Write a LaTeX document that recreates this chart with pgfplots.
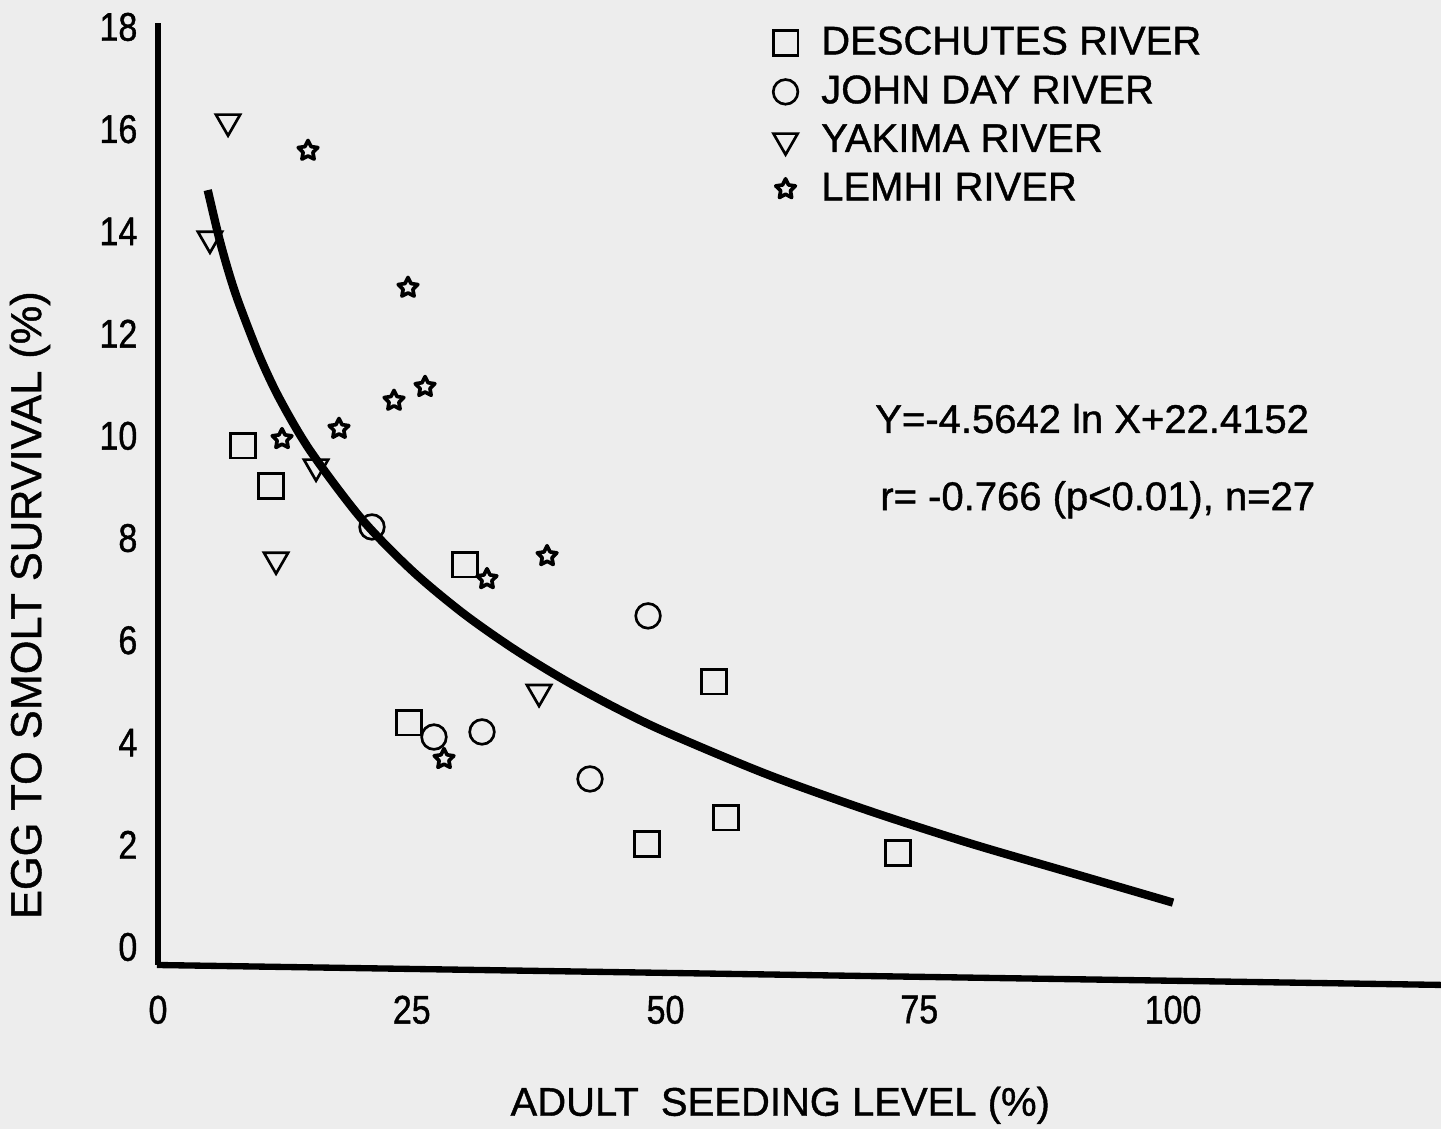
\documentclass[border=0pt]{standalone}
\usepackage{pgfplots}
\pgfplotsset{compat=1.18}
\usepackage{fontspec}
\setmainfont{Liberation Sans}[FakeBold=1]
\newfontfamily\tickfont{Liberation Sans}[FakeStretch=0.85]
\newfontfamily\heavyfont{Liberation Sans}[FakeBold=1]
\newfontfamily\heavytick{Liberation Sans}[FakeStretch=0.85,FakeBold=1]
\definecolor{bg}{rgb}{0.93,0.93,0.93}

\pgfdeclareplotmark{ostar}{%
  \pgfpathmoveto{\pgfpointpolar{90}{\pgfplotmarksize}}%
  \pgfpathlineto{\pgfpointpolar{126}{0.5\pgfplotmarksize}}%
  \pgfpathlineto{\pgfpointpolar{162}{\pgfplotmarksize}}%
  \pgfpathlineto{\pgfpointpolar{198}{0.5\pgfplotmarksize}}%
  \pgfpathlineto{\pgfpointpolar{234}{\pgfplotmarksize}}%
  \pgfpathlineto{\pgfpointpolar{270}{0.5\pgfplotmarksize}}%
  \pgfpathlineto{\pgfpointpolar{306}{\pgfplotmarksize}}%
  \pgfpathlineto{\pgfpointpolar{342}{0.5\pgfplotmarksize}}%
  \pgfpathlineto{\pgfpointpolar{18}{\pgfplotmarksize}}%
  \pgfpathlineto{\pgfpointpolar{54}{0.5\pgfplotmarksize}}%
  \pgfpathclose
  \pgfusepathqstroke}

\begin{document}
\begin{tikzpicture}
\useasboundingbox (0,0) rectangle (432.3pt,338.7pt);
\fill[bg] (0,0) rectangle (432.3pt,338.7pt);
\begin{axis}[
  at={(47.4pt,49.2pt)}, anchor=south west,
  scale only axis, width=384.9pt, height=282.6pt,
  xmin=0, xmax=126.4, ymin=0, ymax=18.43,
  axis lines=left,
  axis line style={-, line width=2pt},
  x axis line style={draw=none},
  clip=false,
  major tick length=0pt,
  xtick={0,25,50,75,100},
  ytick={0,2,...,18},
  /pgf/number format/assume math mode=true,
  yticklabel style={font=\heavytick\fontsize{12}{14}\selectfont, inner sep=0pt, anchor=east, xshift=-6pt, yshift=5.4pt},
  xticklabel style={font=\heavytick\fontsize{12}{14}\selectfont, inner sep=0pt, anchor=north, yshift=-9pt},
  xlabel={ADULT\ \ SEEDING LEVEL (\%)},
  ylabel={EGG TO SMOLT SURVIVAL (\%)},
  xlabel style={font=\heavyfont\fontsize{12}{14}\selectfont, at={(axis description cs:0.485,-0.149)}, anchor=center},
  ylabel style={font=\heavyfont\fontsize{13}{15}\selectfont, at={(axis description cs:-0.0998,0.382)}, anchor=center, rotate=0},
  legend style={at={(axis description cs:0.479,0.997)}, anchor=north west, draw=none, fill=none,
    font=\heavyfont\fontsize{12}{14}\selectfont, inner sep=0pt, row sep=4.8pt, nodes={inner sep=0pt},
    /tikz/every odd column/.append style={column sep=7pt}},
  legend cell align=left,
  legend image code/.code={\draw[#1] plot coordinates {(0pt,0pt)};},
]
% Deschutes
\addplot[only marks, mark=square, mark size=3.7pt, mark options={line width=0.8pt, black}] coordinates {
 (8.37,10.16) (11.13,9.37) (24.73,4.74) (30.25,7.83) (48.18,2.37) (54.78,5.54) (55.96,2.88) (72.91,2.19)};
\addlegendentry{DESCHUTES RIVER}
% John Day
\addplot[only marks, mark=o, mark size=3.7pt, mark options={line width=0.8pt, black}] coordinates {
 (21.08,8.57) (27.19,4.46) (31.92,4.56) (42.56,3.64) (48.28,6.83)};
\addlegendentry{JOHN DAY RIVER}
% Yakima
\addplot[only marks, mark=triangle, mark size=4.2pt, mark options={line width=0.8pt, black, rotate=180}] coordinates {
 (6.90,16.50) (5.12,14.21) (15.57,9.75) (11.63,7.93) (37.54,5.34)};
\addlegendentry{YAKIMA RIVER}
% Lemhi
\addplot[only marks, mark=ostar, mark size=3.1pt, mark options={line width=1.1pt, black, line join=round}] coordinates {
 (14.78,15.93) (24.63,13.25) (12.22,10.29) (17.83,10.49) (23.25,11.04) (26.31,11.31) (32.41,7.55) (38.33,8.00) (28.18,4.03)};
\addlegendentry{LEMHI RIVER}
% regression curve
\addplot[black, line width=2.5pt, smooth, forget plot] coordinates {
 (4.9,15.16) (6,14.24) (7,13.53) (8,12.93) (10,11.91) (12,11.07) (15,10.06) (20,8.74) (25,7.72)
 (30,6.89) (35,6.19) (40,5.58) (45,5.04) (50,4.56) (60,3.73) (70,3.02) (80,2.38) (90,1.80) (100,1.22)};
% x axis line (slightly slanted as in the scan)
\draw[line width=1.9pt] (axis cs:-0.1,0) -- (axis cs:126.4,-0.39);
\node[anchor=base west, inner sep=0pt, font=\heavyfont\fontsize{12}{14}\selectfont] at (axis cs:70.6,10.41) {Y=-4.5642 ln X+22.4152};
\node[anchor=base west, inner sep=0pt, font=\heavyfont\fontsize{12}{14}\selectfont] at (axis cs:71.1,8.90) {r= -0.766 (p<0.01), n=27};
\end{axis}
\end{tikzpicture}
\end{document}
